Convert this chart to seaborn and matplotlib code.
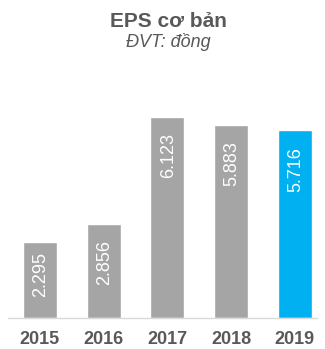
import matplotlib
matplotlib.use("Agg")
import matplotlib.pyplot as plt
import seaborn as sns
import pandas as pd

# EPS by year (VND)
years = ["2015", "2016", "2017", "2018", "2019"]
eps = [2295, 2856, 6123, 5883, 5716]
eps_labels = ["2.295", "2.856", "6.123", "5.883", "5.716"]
bar_colors = ["#A5A5A5", "#A5A5A5", "#A5A5A5", "#A5A5A5", "#00B0F0"]
label_offsets_pt = [-7, -12, -12, -12, -12]

sns.set_theme(style="white")
plt.rcParams["font.family"] = ["Liberation Sans", "DejaVu Sans"]

df = pd.DataFrame({"year": years, "eps": eps})

W, H = 325, 349
fig = plt.figure(figsize=(W / 100, H / 100), dpi=100)
left_px, right_px = 8, 316.7
base_px = 317.5
ax = fig.add_axes([left_px / W, (H - base_px) / H, (right_px - left_px) / W, 229.6 / H])

sns.barplot(data=df, x="year", y="eps", hue="year", palette=bar_colors,
            legend=False, width=0.535, saturation=1, ax=ax)

ax.set_xlim(-0.5, -0.5 + (right_px - left_px) / 63.75)
ax.set_ylim(0, 7000)
ax.set_xlabel("")
ax.set_ylabel("")
ax.set_yticks([])
for s in ["top", "right", "left"]:
    ax.spines[s].set_visible(False)
ax.spines["bottom"].set_color("#D9D9D9")
ax.spines["bottom"].set_linewidth(1.0)
ax.tick_params(axis="x", length=0, pad=10)
for t in ax.get_xticklabels():
    t.set_fontsize(13)
    t.set_fontweight("bold")
    t.set_color("#595959")

for i, (v, lab, off) in enumerate(zip(eps, eps_labels, label_offsets_pt)):
    ax.annotate(lab, xy=(i, v), xytext=(0.8, off), textcoords="offset points",
                rotation=90, ha="center", va="top", color="white", fontsize=13)

fig.text(168 / W, 1 - 26.7 / H, "EPS cơ bản", ha="center", va="baseline",
         fontsize=15, fontweight="bold", color="#595959")
fig.text(168 / W, 1 - 47 / H, "ĐVT: đồng", ha="center", va="baseline",
         fontsize=13, fontstyle="italic", color="#595959")

fig.savefig("out.png", dpi=100)
